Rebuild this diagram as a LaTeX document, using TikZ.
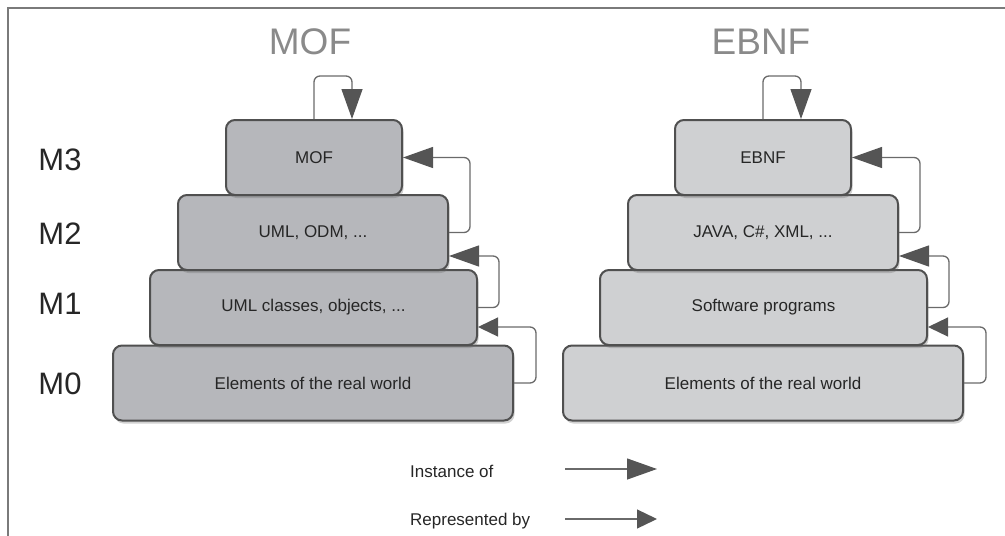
\documentclass[tikz,border=0pt]{standalone}
\usepackage{fontspec}
\setmainfont{Liberation Sans}
\usetikzlibrary{arrows.meta,shadows}
\definecolor{leftfill}{HTML}{B6B7BB}
\definecolor{rightfill}{HTML}{CFD0D2}
\definecolor{boxline}{HTML}{505050}
\definecolor{conn}{HTML}{6A6A6A}
\definecolor{tipc}{HTML}{555555}
\definecolor{titlec}{HTML}{8A8A8A}
\definecolor{framec}{HTML}{7A7A7A}
\begin{document}
\begin{tikzpicture}[x=1pt,y=-1pt,
  layer/.style={draw=boxline, line width=2pt, rounded corners=9pt,
    minimum height=75pt, inner sep=0pt,
    font=\fontsize{17}{20}\selectfont, text=black!85,
    drop shadow={shadow xshift=1.5pt, shadow yshift=-3pt, opacity=0.3, fill=black!60}},
  lbox/.style={layer, fill=leftfill},
  rbox/.style={layer, fill=rightfill},
  title/.style={font=\fontsize{37}{40}\selectfont, text=titlec, inner sep=0pt},
  level/.style={font=\fontsize{31}{34}\selectfont, text=black!85, inner sep=0pt},
  legtext/.style={font=\fontsize{17}{20}\selectfont, text=black!85, inner sep=0pt, anchor=west},
  inst/.style={draw=conn, line width=1.3pt, rounded corners=6pt,
    -{Triangle[length=30pt,width=21pt,color=tipc]}},
  repr/.style={draw=conn, line width=1.3pt, rounded corners=6pt,
    -{Triangle[length=20pt,width=19pt,color=tipc]}}
]
\useasboundingbox (0,0) rectangle (1005,536);
\draw[framec, line width=1.5pt] (8,540) -- (8,8) -- (1010,8);

% titles
\node[title] (tmof) at (310,41.5) {MOF};
\node[title] (tebnf) at (761,41.5) {EBNF};

% level labels
\node[level] (l3) at (60,160) {M3};
\node[level] (l2) at (60,233.5) {M2};
\node[level] (l1) at (60,304) {M1};
\node[level] (l0) at (60,384) {M0};

% left pyramid
\node[lbox, minimum width=400pt] (m0L) at (313,383) {Elements of the real world};
\node[lbox, minimum width=327pt] (m1L) at (313.5,307.5) {UML classes, objects, ...};
\node[lbox, minimum width=270pt] (m2L) at (313,232.5) {UML, ODM, ...};
\node[lbox, minimum width=176pt] (m3L) at (314,157.5) {MOF};

% right pyramid
\node[rbox, minimum width=400pt] (m0R) at (763,383) {Elements of the real world};
\node[rbox, minimum width=327pt] (m1R) at (763.5,307.5) {Software programs};
\node[rbox, minimum width=270pt] (m2R) at (763,232.5) {JAVA, C\#, XML, ...};
\node[rbox, minimum width=176pt] (m3R) at (763,157.5) {EBNF};

% left connectors
\draw[inst] (m3L.north) -- ++(0,-43) -| ([xshift=38pt]m3L.north);
\draw[inst] (m2L.east) -- ++(21,0) |- (m3L.east);
\draw[inst] (m1L.east) -- ++(21,0) |- ([yshift=15pt]m2L.south east);
\draw[repr] (m0L.east) -- ++(22,0) |- ([yshift=19pt]m1L.south east);

% right connectors
\draw[inst] (m3R.north) -- ++(0,-43) -| ([xshift=38pt]m3R.north);
\draw[inst] (m2R.east) -- ++(21,0) |- (m3R.east);
\draw[inst] (m1R.east) -- ++(21,0) |- ([yshift=15pt]m2R.south east);
\draw[repr] (m0R.east) -- ++(22,0) |- ([yshift=19pt]m1R.south east);

% legend
\node[legtext] (linst) at (410,471) {Instance of};
\node[legtext] (lrepr) at (410,521) {Represented by};
\coordinate (ia) at (565,469);
\coordinate (ib) at (657,469);
\coordinate (ra) at (565,519);
\coordinate (rb) at (657,519);
\draw[inst] (ia) -- (ib);
\draw[repr] (ra) -- (rb);
\end{tikzpicture}
\end{document}
